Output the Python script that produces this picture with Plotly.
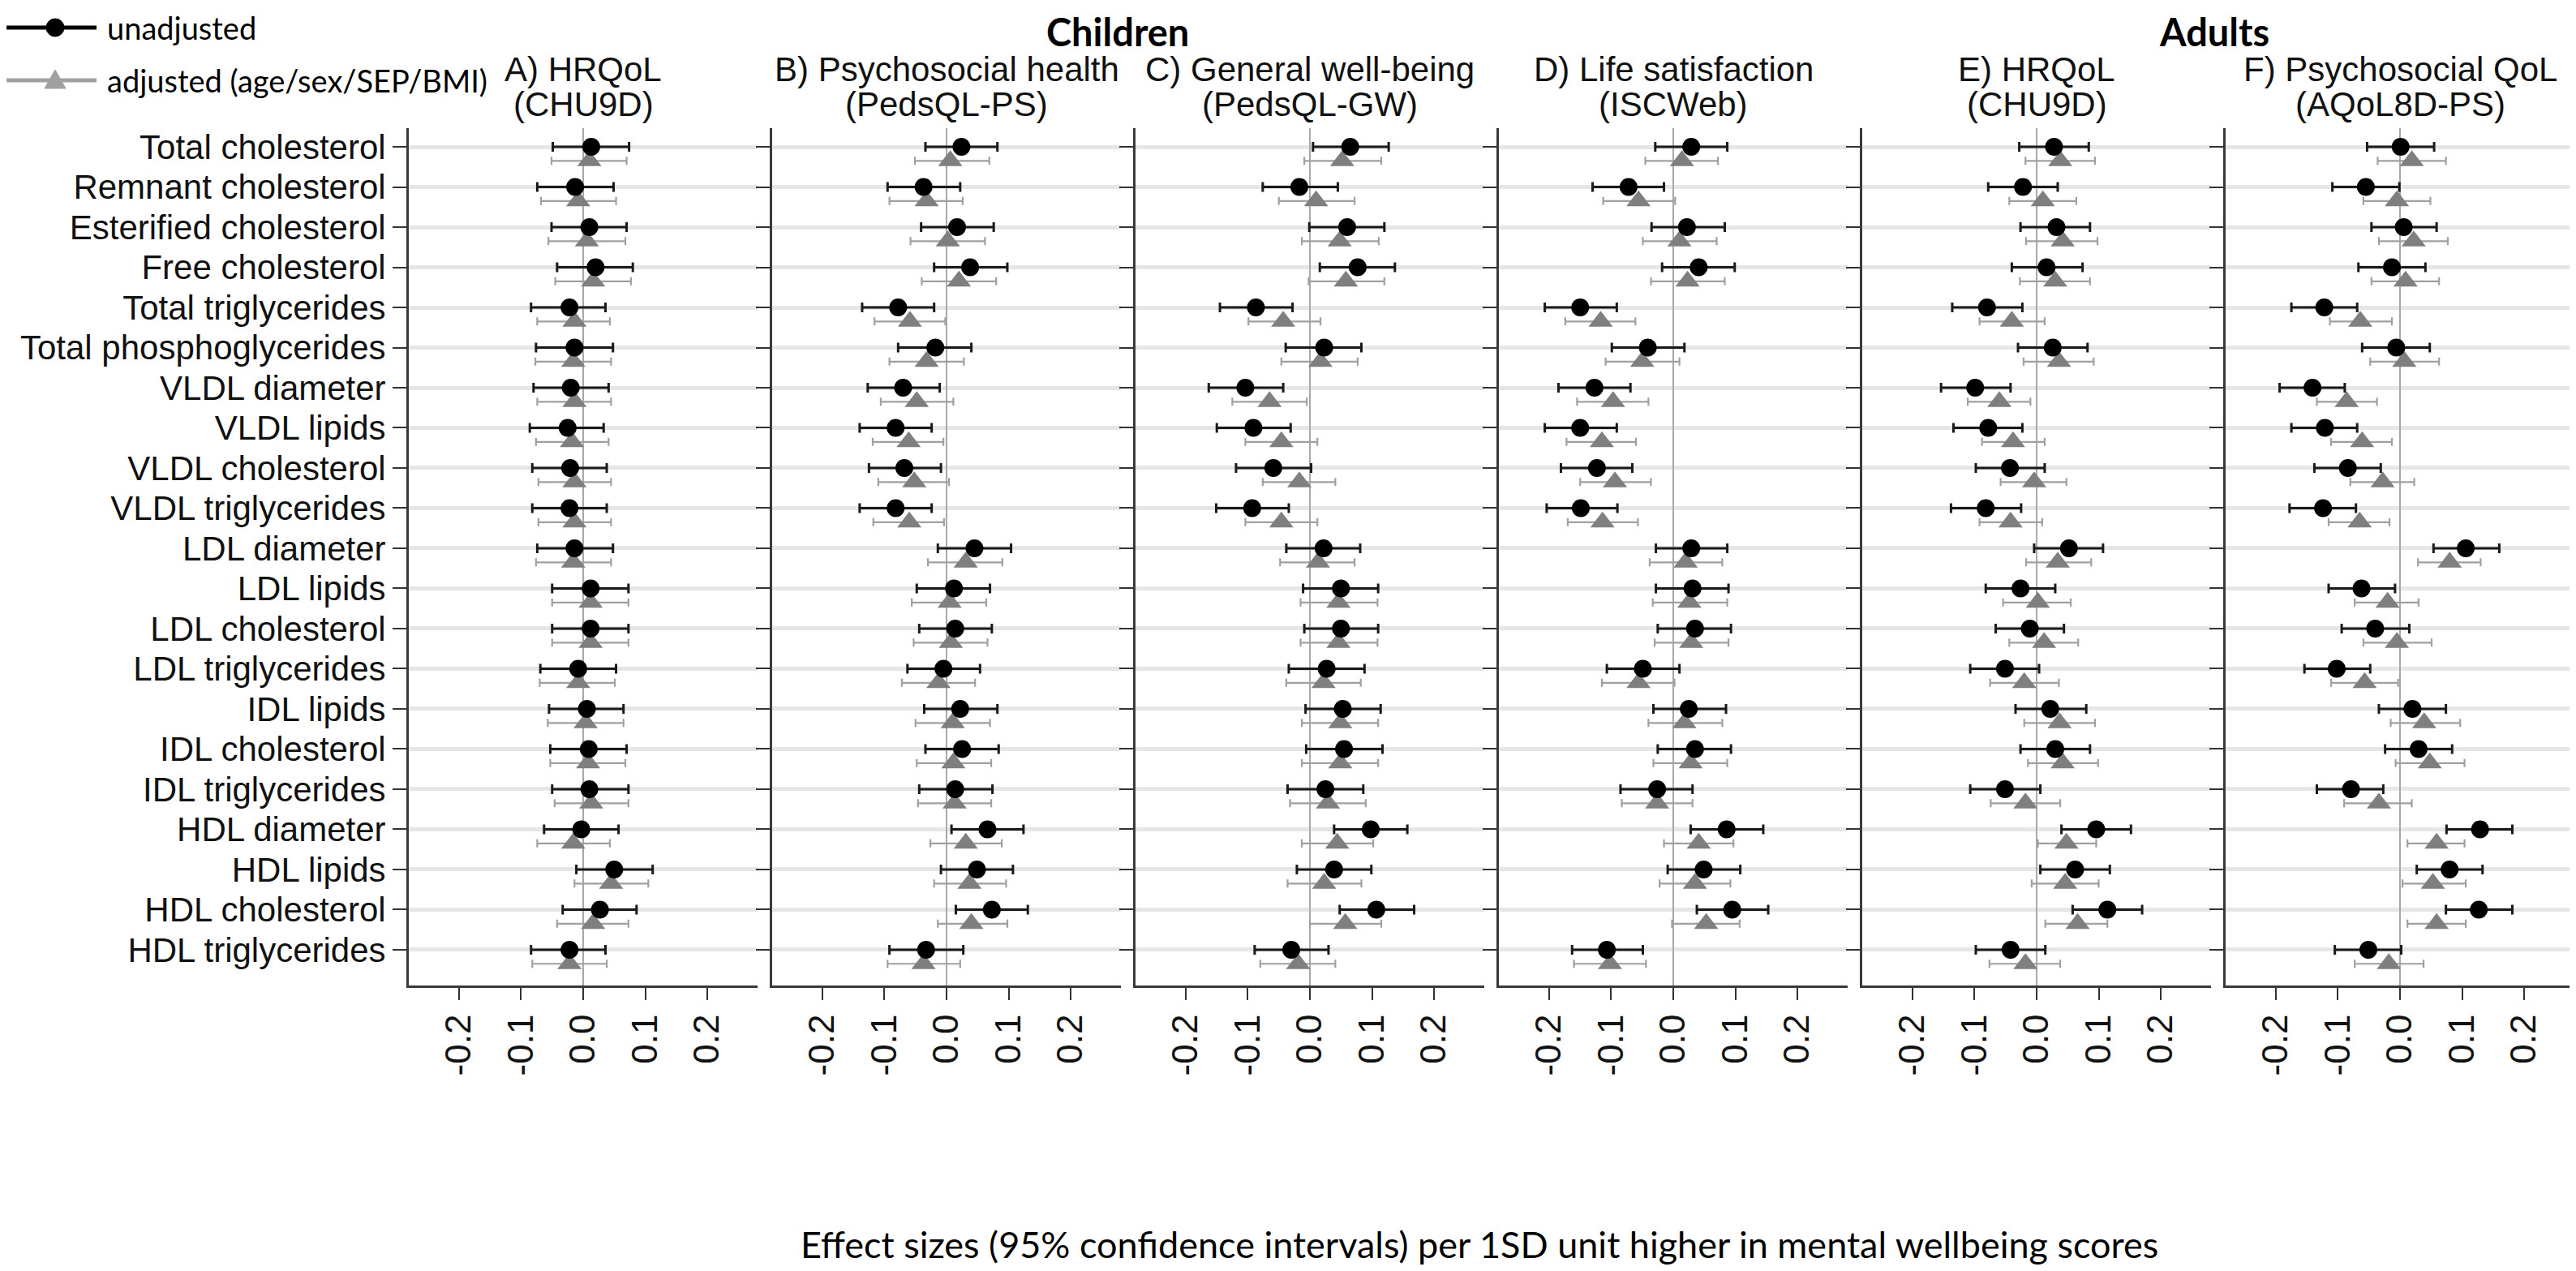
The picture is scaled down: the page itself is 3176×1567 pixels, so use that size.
import plotly.graph_objects as go

categories = ["Total cholesterol", "Remnant cholesterol", "Esterified cholesterol", "Free cholesterol",
              "Total triglycerides", "Total phosphoglycerides", "VLDL diameter", "VLDL lipids",
              "VLDL cholesterol", "VLDL triglycerides", "LDL diameter", "LDL lipids", "LDL cholesterol",
              "LDL triglycerides", "IDL lipids", "IDL cholesterol", "IDL triglycerides", "HDL diameter",
              "HDL lipids", "HDL cholesterol", "HDL triglycerides"]

panel_line1 = ["A) HRQoL", "B) Psychosocial health", "C) General well-being",
               "D) Life satisfaction", "E) HRQoL", "F) Psychosocial QoL"]
panel_line2 = ["(CHU9D)", "(PedsQL-PS)", "(PedsQL-GW)", "(ISCWeb)", "(CHU9D)", "(AQoL8D-PS)"]
group_labels = ["Children", "Adults"]
series_names = ["unadjusted", "adjusted (age/sex/SEP/BMI)"]
x_ticks = [-0.2, -0.1, 0.0, 0.1, 0.2]
x_tick_text = ["-0.2", "-0.1", "0.0", "0.1", "0.2"]
x_title = "Effect sizes (95% confidence intervals) per 1SD unit higher in mental wellbeing scores"

# ---- Panel A: HRQoL (CHU9D), children ----
A_unadj = [0.013, -0.013, 0.010, 0.020, -0.022, -0.014, -0.020, -0.025, -0.021, -0.022, -0.014,
           0.012, 0.012, -0.008, 0.006, 0.009, 0.010, -0.003, 0.050, 0.027, -0.022]
A_unadj_lo = [-0.049, -0.074, -0.051, -0.042, -0.084, -0.076, -0.080, -0.086, -0.082, -0.082, -0.074,
              -0.050, -0.050, -0.069, -0.055, -0.053, -0.050, -0.063, -0.011, -0.033, -0.084]
A_unadj_hi = [0.074, 0.049, 0.070, 0.080, 0.036, 0.048, 0.041, 0.033, 0.038, 0.038, 0.048,
              0.073, 0.073, 0.053, 0.065, 0.070, 0.073, 0.057, 0.112, 0.086, 0.036]
A_adj = [0.010, -0.008, 0.006, 0.016, -0.014, -0.016, -0.014, -0.018, -0.014, -0.014, -0.016,
         0.012, 0.012, -0.008, 0.004, 0.008, 0.013, -0.016, 0.045, 0.016, -0.022]
A_adj_lo = [-0.051, -0.068, -0.056, -0.045, -0.074, -0.077, -0.074, -0.076, -0.072, -0.072, -0.076,
            -0.050, -0.050, -0.070, -0.057, -0.053, -0.046, -0.074, -0.014, -0.042, -0.082]
A_adj_hi = [0.070, 0.053, 0.068, 0.077, 0.043, 0.045, 0.045, 0.041, 0.045, 0.045, 0.045,
            0.073, 0.073, 0.051, 0.065, 0.068, 0.073, 0.043, 0.105, 0.073, 0.038]

# ---- Panel B: Psychosocial health (PedsQL-PS), children ----
B_unadj = [0.024, -0.037, 0.017, 0.038, -0.078, -0.018, -0.070, -0.082, -0.068, -0.082, 0.045,
           0.012, 0.014, -0.005, 0.022, 0.025, 0.014, 0.066, 0.049, 0.073, -0.033]
B_unadj_lo = [-0.034, -0.095, -0.041, -0.020, -0.136, -0.078, -0.127, -0.140, -0.125, -0.140, -0.014,
              -0.048, -0.044, -0.063, -0.036, -0.034, -0.044, 0.008, -0.009, 0.015, -0.092]
B_unadj_hi = [0.082, 0.022, 0.076, 0.098, -0.020, 0.040, -0.011, -0.024, -0.009, -0.024, 0.104,
              0.070, 0.073, 0.054, 0.082, 0.084, 0.074, 0.124, 0.107, 0.131, 0.027]
B_adj = [0.006, -0.032, 0.002, 0.020, -0.059, -0.032, -0.048, -0.061, -0.052, -0.060, 0.031,
         0.005, 0.007, -0.013, 0.010, 0.011, 0.013, 0.031, 0.037, 0.040, -0.037]
B_adj_lo = [-0.051, -0.092, -0.058, -0.040, -0.116, -0.092, -0.106, -0.119, -0.110, -0.118, -0.030,
            -0.056, -0.053, -0.072, -0.050, -0.048, -0.046, -0.026, -0.020, -0.014, -0.095]
B_adj_hi = [0.069, 0.026, 0.062, 0.080, -0.002, 0.028, 0.011, -0.005, 0.004, -0.004, 0.090,
            0.064, 0.066, 0.046, 0.070, 0.072, 0.072, 0.089, 0.096, 0.098, 0.022]

# ---- Panel C: General well-being (PedsQL-GW), children ----
C_unadj = [0.065, -0.017, 0.060, 0.077, -0.087, 0.023, -0.104, -0.091, -0.059, -0.093, 0.022,
           0.050, 0.050, 0.027, 0.053, 0.055, 0.025, 0.098, 0.039, 0.107, -0.030]
C_unadj_lo = [0.005, -0.076, -0.001, 0.016, -0.145, -0.039, -0.163, -0.150, -0.119, -0.151, -0.038,
              -0.011, -0.009, -0.034, -0.007, -0.006, -0.036, 0.039, -0.021, 0.048, -0.089]
C_unadj_hi = [0.127, 0.045, 0.120, 0.137, -0.028, 0.083, -0.043, -0.031, 0.002, -0.034, 0.081,
              0.110, 0.110, 0.088, 0.114, 0.117, 0.086, 0.157, 0.099, 0.168, 0.030]
C_adj = [0.052, 0.010, 0.048, 0.058, -0.043, 0.017, -0.065, -0.046, -0.017, -0.046, 0.013,
         0.046, 0.046, 0.022, 0.049, 0.049, 0.029, 0.044, 0.023, 0.057, -0.019]
C_adj_lo = [-0.009, -0.050, -0.013, -0.002, -0.099, -0.046, -0.125, -0.104, -0.076, -0.104, -0.048,
            -0.015, -0.015, -0.038, -0.013, -0.013, -0.032, -0.013, -0.036, 0.000, -0.080]
C_adj_hi = [0.115, 0.072, 0.111, 0.120, 0.017, 0.077, -0.005, 0.012, 0.041, 0.012, 0.072,
            0.109, 0.109, 0.082, 0.110, 0.110, 0.090, 0.102, 0.083, 0.115, 0.041]

# ---- Panel D: Life satisfaction (ISCWeb), children ----
D_unadj = [0.029, -0.072, 0.022, 0.041, -0.150, -0.041, -0.127, -0.150, -0.123, -0.149, 0.029,
           0.031, 0.035, -0.049, 0.025, 0.035, -0.026, 0.086, 0.049, 0.095, -0.107]
D_unadj_lo = [-0.029, -0.130, -0.035, -0.018, -0.207, -0.099, -0.185, -0.207, -0.181, -0.204, -0.028,
              -0.028, -0.025, -0.107, -0.032, -0.025, -0.085, 0.028, -0.009, 0.038, -0.163]
D_unadj_hi = [0.087, -0.015, 0.083, 0.099, -0.091, 0.018, -0.069, -0.091, -0.066, -0.090, 0.087,
              0.089, 0.093, 0.010, 0.085, 0.093, 0.031, 0.145, 0.108, 0.153, -0.049]
D_adj = [0.014, -0.056, 0.010, 0.023, -0.117, -0.050, -0.097, -0.115, -0.094, -0.114, 0.020,
         0.026, 0.029, -0.056, 0.018, 0.028, -0.026, 0.041, 0.035, 0.053, -0.102]
D_adj_lo = [-0.045, -0.113, -0.049, -0.036, -0.174, -0.109, -0.155, -0.172, -0.150, -0.170, -0.038,
            -0.033, -0.030, -0.115, -0.040, -0.032, -0.083, -0.015, -0.022, -0.002, -0.160]
D_adj_hi = [0.072, 0.003, 0.070, 0.083, -0.061, 0.010, -0.040, -0.060, -0.036, -0.057, 0.079,
            0.087, 0.089, 0.002, 0.079, 0.087, 0.031, 0.097, 0.092, 0.107, -0.044]

# ---- Panel E: HRQoL (CHU9D), adults ----
E_unadj = [0.028, -0.022, 0.032, 0.016, -0.080, 0.026, -0.099, -0.078, -0.043, -0.082, 0.052,
           -0.026, -0.011, -0.051, 0.022, 0.030, -0.051, 0.096, 0.062, 0.114, -0.042]
E_unadj_lo = [-0.028, -0.078, -0.026, -0.040, -0.136, -0.030, -0.154, -0.134, -0.098, -0.138, -0.004,
              -0.082, -0.066, -0.107, -0.034, -0.026, -0.107, 0.040, 0.006, 0.058, -0.098]
E_unadj_hi = [0.084, 0.034, 0.086, 0.074, -0.023, 0.082, -0.042, -0.023, 0.013, -0.025, 0.107,
              0.030, 0.044, 0.004, 0.080, 0.086, 0.006, 0.152, 0.118, 0.170, 0.014]
E_adj = [0.038, 0.010, 0.042, 0.030, -0.040, 0.036, -0.060, -0.038, -0.004, -0.042, 0.034,
         0.002, 0.012, -0.020, 0.037, 0.042, -0.018, 0.048, 0.046, 0.066, -0.018]
E_adj_lo = [-0.018, -0.044, -0.017, -0.027, -0.092, -0.021, -0.111, -0.088, -0.058, -0.092, -0.017,
            -0.054, -0.044, -0.075, -0.020, -0.014, -0.074, 0.002, -0.008, 0.014, -0.076]
E_adj_hi = [0.094, 0.064, 0.098, 0.086, 0.013, 0.092, -0.010, 0.013, 0.048, 0.009, 0.088,
            0.055, 0.067, 0.036, 0.094, 0.099, 0.038, 0.096, 0.100, 0.114, 0.038]

# ---- Panel F: Psychosocial QoL (AQoL8D-PS), adults ----
F_unadj = [0.001, -0.055, 0.006, -0.013, -0.122, -0.006, -0.141, -0.121, -0.084, -0.124, 0.106,
           -0.062, -0.040, -0.102, 0.020, 0.030, -0.079, 0.129, 0.080, 0.127, -0.051]
F_unadj_lo = [-0.053, -0.109, -0.046, -0.067, -0.175, -0.061, -0.194, -0.175, -0.138, -0.178, 0.054,
              -0.115, -0.094, -0.154, -0.034, -0.024, -0.134, 0.075, 0.027, 0.074, -0.105]
F_unadj_hi = [0.055, -0.001, 0.059, 0.041, -0.069, 0.048, -0.089, -0.069, -0.031, -0.071, 0.160,
              -0.008, 0.015, -0.048, 0.074, 0.084, -0.027, 0.181, 0.133, 0.181, 0.002]
F_adj = [0.019, -0.005, 0.022, 0.009, -0.064, 0.007, -0.086, -0.061, -0.028, -0.065, 0.080,
         -0.020, -0.005, -0.057, 0.039, 0.048, -0.034, 0.059, 0.053, 0.059, -0.018]
F_adj_lo = [-0.036, -0.059, -0.034, -0.046, -0.113, -0.048, -0.134, -0.111, -0.080, -0.115, 0.029,
            -0.073, -0.059, -0.111, -0.015, -0.007, -0.090, 0.012, 0.004, 0.012, -0.073]
F_adj_hi = [0.074, 0.049, 0.077, 0.063, -0.013, 0.063, -0.037, -0.013, 0.023, -0.017, 0.130,
            0.030, 0.051, -0.003, 0.097, 0.104, 0.019, 0.104, 0.106, 0.106, 0.038]

panels = [
    (A_unadj, A_unadj_lo, A_unadj_hi, A_adj, A_adj_lo, A_adj_hi),
    (B_unadj, B_unadj_lo, B_unadj_hi, B_adj, B_adj_lo, B_adj_hi),
    (C_unadj, C_unadj_lo, C_unadj_hi, C_adj, C_adj_lo, C_adj_hi),
    (D_unadj, D_unadj_lo, D_unadj_hi, D_adj, D_adj_lo, D_adj_hi),
    (E_unadj, E_unadj_lo, E_unadj_hi, E_adj, E_adj_lo, E_adj_hi),
    (F_unadj, F_unadj_lo, F_unadj_hi, F_adj, F_adj_lo, F_adj_hi),
]

# ---------------- layout geometry (pixels) ----------------
W, H = 3176, 1567
ML, MR, MT, MB = 496, 10, 150, 360
PW = W - ML - MR
PH = H - MT - MB
panel_w, gap = 430, 18
ADJ_OFFSET = 0.35

ARIAL = "Liberation Sans, Arial, sans-serif"
CALIBRI = "Lato, Carlito, Calibri, sans-serif"

BLACK = "#000000"
GREY_MARK = "#7f7f7f"
GREY_BAR = "#a0a0a0"


def px_x(px):
    return (px - ML) / PW


def px_y(py):
    return 1 - (py - MT) / PH


rows = list(range(len(categories)))
rows_adj = [r + ADJ_OFFSET for r in rows]

fig = go.Figure()

for i, (u, ulo, uhi, a, alo, ahi) in enumerate(panels):
    xa = "x" if i == 0 else f"x{i+1}"
    ya = "y" if i == 0 else f"y{i+1}"
    fig.add_trace(go.Scatter(
        x=a, y=rows_adj, xaxis=xa, yaxis=ya, mode="markers", showlegend=False,
        name=series_names[1],
        marker=dict(symbol="triangle-up", size=26, color=GREY_MARK),
        error_x=dict(type="data", symmetric=False,
                     array=[h - v for h, v in zip(ahi, a)],
                     arrayminus=[v - l for v, l in zip(a, alo)],
                     color=GREY_BAR, thickness=2.2, width=5),
    ))
    fig.add_trace(go.Scatter(
        x=u, y=rows, xaxis=xa, yaxis=ya, mode="markers", showlegend=False,
        name=series_names[0],
        marker=dict(symbol="circle", size=22, color=BLACK),
        error_x=dict(type="data", symmetric=False,
                     array=[h - v for h, v in zip(uhi, u)],
                     arrayminus=[v - l for v, l in zip(u, ulo)],
                     color="#1a1a1a", thickness=3, width=6),
    ))

layout = dict(
    width=W, height=H, autosize=False, showlegend=False,
    margin=dict(l=ML, r=MR, t=MT, b=MB),
    paper_bgcolor="white", plot_bgcolor="white",
    font=dict(family=ARIAL, size=42, color="#000000"),
)

for i in range(6):
    x0 = i * (panel_w + gap)
    dom = [x0 / PW, (x0 + panel_w) / PW]
    xkey = "xaxis" if i == 0 else f"xaxis{i+1}"
    ykey = "yaxis" if i == 0 else f"yaxis{i+1}"
    ya = "y" if i == 0 else f"y{i+1}"
    xa = "x" if i == 0 else f"x{i+1}"
    layout[xkey] = dict(
        domain=dom, anchor=ya, range=[-0.281, 0.281], fixedrange=True,
        tickvals=x_ticks, ticktext=x_tick_text, tickangle=-90,
        ticks="outside", ticklen=15, tickwidth=2, tickcolor="#333333",
        showline=True, linecolor="#3a3a3a", linewidth=3,
        showgrid=False, zeroline=True, zerolinecolor="#a8a8a8", zerolinewidth=2,
        tickfont=dict(family=ARIAL, size=44, color="#111111"),
    )
    layout[ykey] = dict(
        domain=[0, 1], anchor=xa, range=[20.89, -0.465], fixedrange=True,
        tickvals=rows, ticktext=categories if i == 0 else [""] * len(rows),
        showticklabels=(i == 0),
        ticks="outside", ticklen=17, tickwidth=2, tickcolor="#333333",
        showline=True, linecolor="#3a3a3a", linewidth=3,
        showgrid=True, gridcolor="#e6e6e6", gridwidth=5, zeroline=False,
        tickfont=dict(family=ARIAL, size=42, color="#111111"),
    )

annotations = []
shapes = []
for i in range(6):
    xd = "x domain" if i == 0 else f"x{i+1} domain"
    annotations.append(dict(text=panel_line1[i], xref=xd, x=0.5,
                            yref="paper", y=px_y(78), xanchor="center", yanchor="middle",
                            showarrow=False, font=dict(family=ARIAL, size=42, color="#111111")))
    annotations.append(dict(text=panel_line2[i], xref=xd, x=0.5,
                            yref="paper", y=px_y(121), xanchor="center", yanchor="middle",
                            showarrow=False, font=dict(family=ARIAL, size=42, color="#111111")))

annotations.append(dict(text="<b>" + group_labels[0] + "</b>", xref="paper", x=px_x(1370),
                        yref="paper", y=px_y(31), xanchor="center", yanchor="middle",
                        showarrow=False, font=dict(family=CALIBRI, size=47, color="#000000")))
annotations.append(dict(text="<b>" + group_labels[1] + "</b>", xref="paper", x=px_x(2722),
                        yref="paper", y=px_y(31), xanchor="center", yanchor="middle",
                        showarrow=False, font=dict(family=CALIBRI, size=47, color="#000000")))
annotations.append(dict(text=x_title, xref="paper", x=px_x(1816), yref="paper", y=px_y(1526),
                        xanchor="center", yanchor="middle", showarrow=False,
                        font=dict(family=CALIBRI, size=45, color="#000000")))

# ---- manual legend (key glyphs + labels) ----
leg_rows = [(26, BLACK, "circle", series_names[0]), (91, GREY_BAR, "triangle", series_names[1])]
for ly, col, sym, label in leg_rows:
    shapes.append(dict(type="line", xref="paper", yref="paper",
                       x0=px_x(0), x1=px_x(111), y0=px_y(ly), y1=px_y(ly),
                       line=dict(color=col, width=5)))
    if sym == "circle":
        shapes.append(dict(type="circle", xref="paper", yref="paper",
                           x0=px_x(49), x1=px_x(71), y0=px_y(ly - 11), y1=px_y(ly + 11),
                           fillcolor=col, line=dict(color=col, width=1)))
    else:
        path = "M {:.5f} {:.5f} L {:.5f} {:.5f} L {:.5f} {:.5f} Z".format(
            px_x(47), px_y(ly + 10), px_x(73), px_y(ly + 10), px_x(60), px_y(ly - 13))
        shapes.append(dict(type="path", xref="paper", yref="paper", path=path,
                           fillcolor=col, line=dict(color=col, width=1)))
    annotations.append(dict(text=label, xref="paper", x=px_x(122), yref="paper", y=px_y(ly),
                            xanchor="left", yanchor="middle", showarrow=False,
                            font=dict(family=CALIBRI, size=38, color="#000000")))

layout["annotations"] = annotations
layout["shapes"] = shapes

fig.update_layout(**layout)
fig.write_html("out.html")
